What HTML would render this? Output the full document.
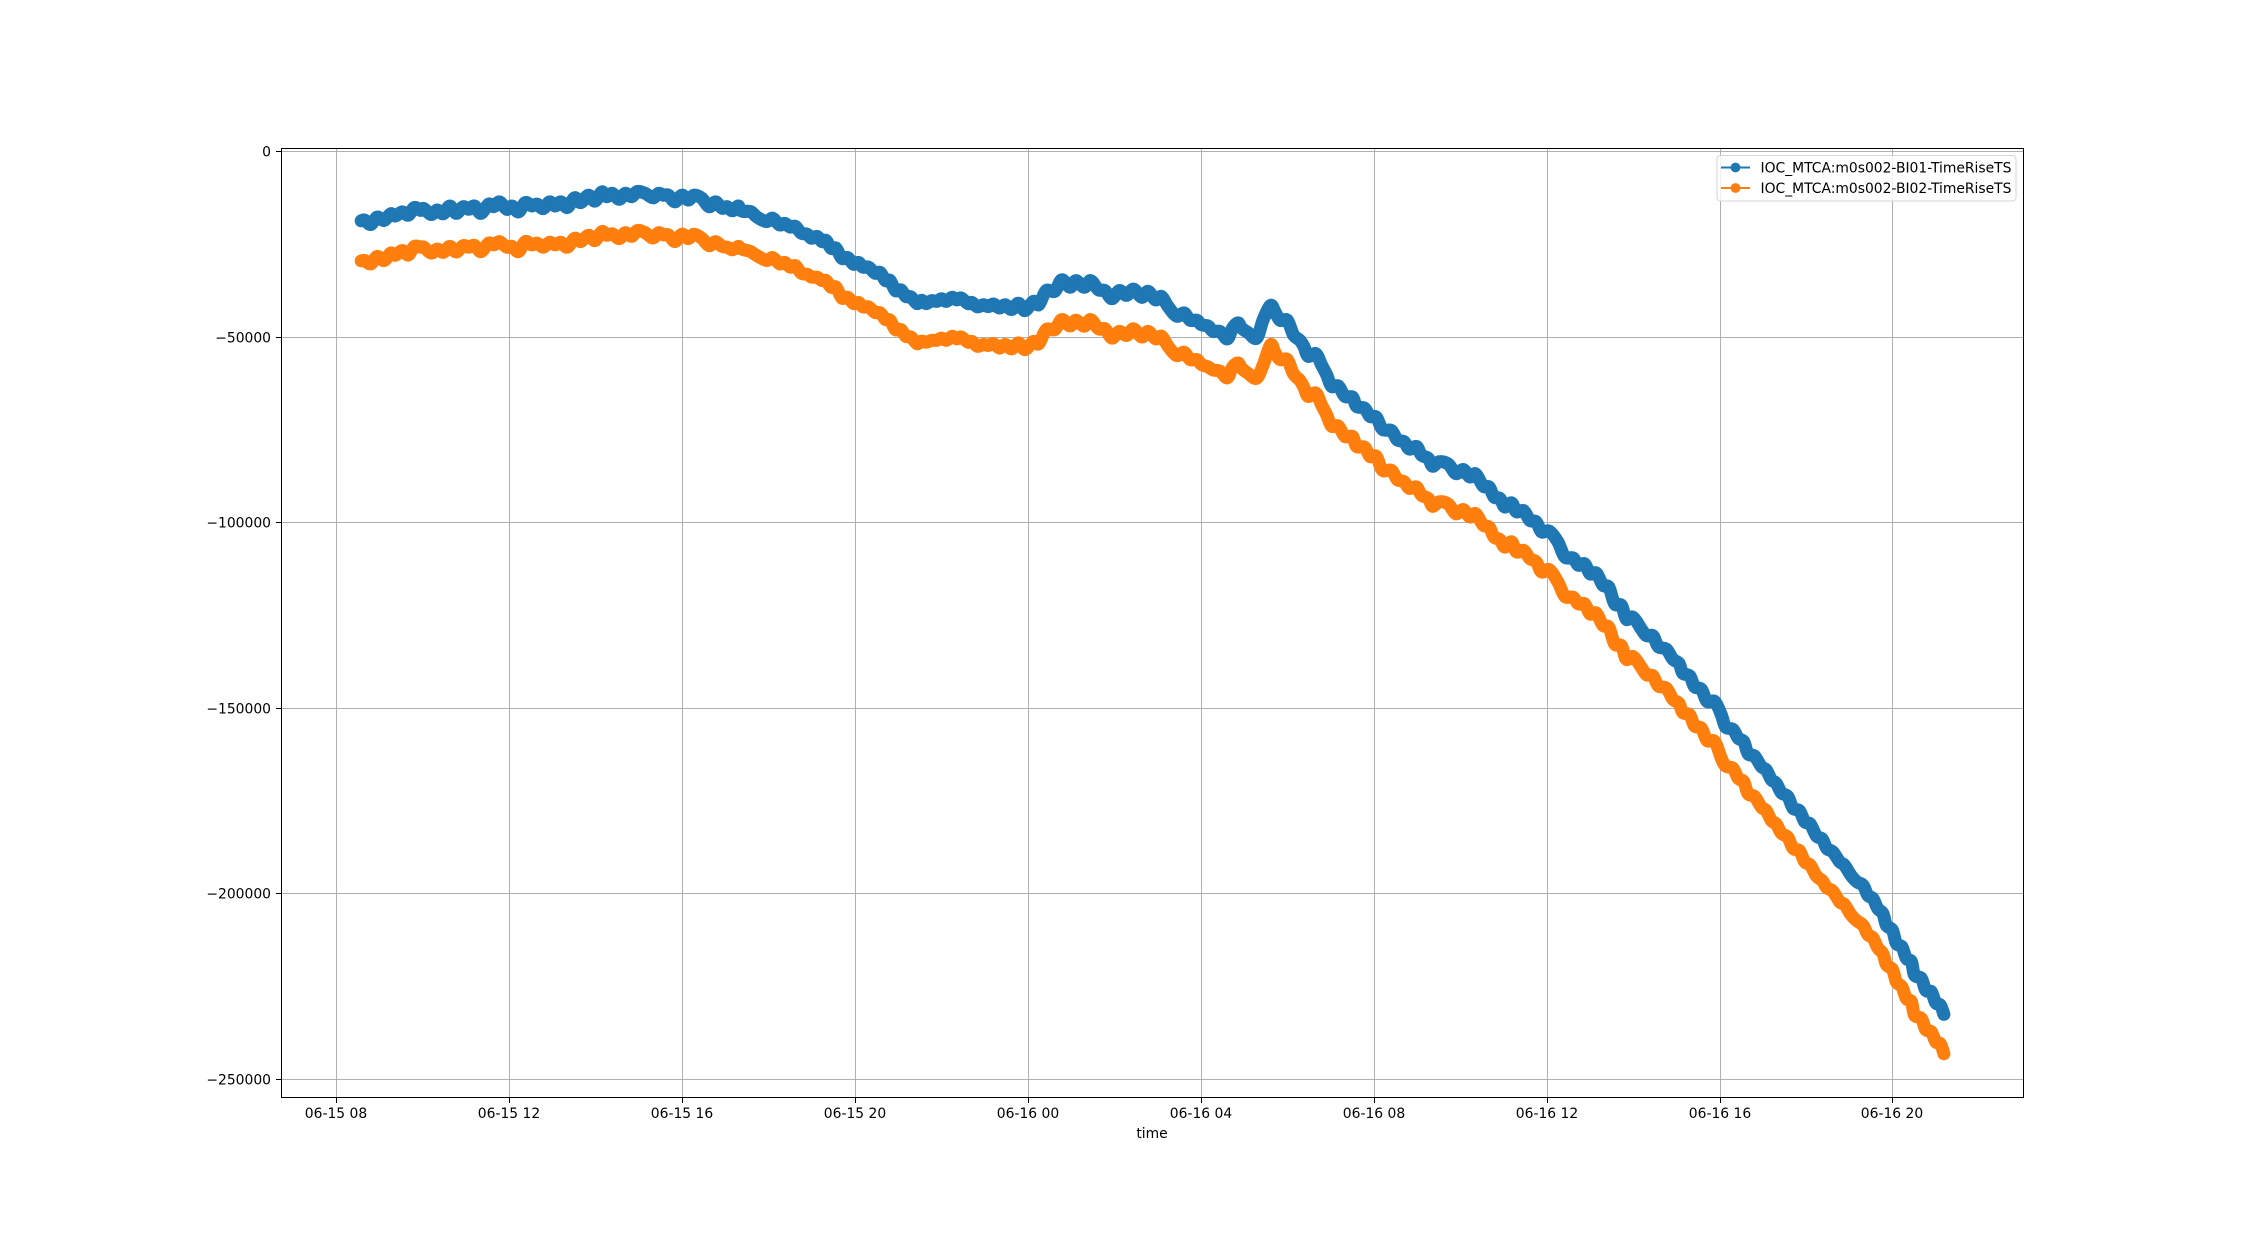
<!DOCTYPE html>
<html lang="en">
<head>
<meta charset="utf-8">
<title>IOC_MTCA TimeRiseTS</title>
<style>
html,body{margin:0;padding:0;background:#fff;width:2248px;height:1233px;overflow:hidden}
svg{display:block}
text{font-family:"DejaVu Sans","Liberation Sans",sans-serif;font-size:13.89px;fill:#000}
</style>
</head>
<body>
<svg id="chart" xmlns="http://www.w3.org/2000/svg" width="2248" height="1233" viewBox="0 0 2248 1233">
  <rect x="0" y="0" width="2248" height="1233" fill="#fff"/>
  <g id="grid"></g>
  <g id="series-bi01"></g>
  <g id="series-bi02"></g>
  <g id="x-ticks"></g>
  <g id="y-ticks"></g>
  <g fill="none" stroke="#000" stroke-width="1" shape-rendering="crispEdges">
    <line x1="281.5" y1="148" x2="281.5" y2="1098"/>
    <line x1="2023.5" y1="148" x2="2023.5" y2="1098"/>
    <line x1="281" y1="148.5" x2="2024" y2="148.5"/>
    <line x1="281" y1="1097.5" x2="2024" y2="1097.5"/>
  </g>
  <text x="1152" y="1138" text-anchor="middle">time</text>
  <g>
    <rect x="1717" y="155.5" width="299" height="45.5" rx="3.5" ry="3.5" fill="#fff" fill-opacity="0.8" stroke="#ccc" stroke-opacity="0.8" stroke-width="1"/>
    <g>
      <line x1="1721" y1="167.5" x2="1750" y2="167.5" stroke="#1f77b4" stroke-width="2.1"/>
      <circle cx="1735.5" cy="167.5" r="4.9" fill="#1f77b4"/>
      <text x="1760.5" y="172.5">IOC_MTCA:m0s002-BI01-TimeRiseTS</text>
    </g>
    <g>
      <line x1="1721" y1="188" x2="1750" y2="188" stroke="#ff7f0e" stroke-width="2.1"/>
      <circle cx="1735.5" cy="188" r="4.9" fill="#ff7f0e"/>
      <text x="1760.5" y="193">IOC_MTCA:m0s002-BI02-TimeRiseTS</text>
    </g>
  </g>
</svg>
<script>
// Hours elapsed since 06-15 08:00
const timeHours = [
0.56,0.64,0.78,0.93,1.09,1.24,1.35,1.51,1.65,1.79,
1.93,2.01,2.18,2.32,2.46,2.61,2.76,2.92,3.05,3.18,
3.33,3.51,3.63,3.76,3.93,4.05,4.20,4.36,4.51,4.63,
4.77,4.92,5.05,5.18,5.33,5.50,5.64,5.82,5.97,6.13,
6.24,6.37,6.53,6.67,6.82,6.95,7.13,7.31,7.44,7.55,
7.67,7.82,7.98,8.13,8.26,8.44,8.61,8.76,8.91,9.03,
9.15,9.28,
9.33,9.41,9.57,9.72,9.94,10.08,10.24,10.36,10.49,10.61,
10.74,10.88,10.98,11.11,11.22,11.32,11.43,11.55,11.68,11.82,
11.95,12.07,12.17,12.30,12.45,12.57,12.69,12.80,12.92,13.05,
13.16,13.28,13.42,13.53,13.63,13.76,13.88,13.99,14.10,14.23,
14.34,14.44,14.60,14.69,14.82,14.96,15.07,15.19,15.33,15.46,
15.61,15.77,15.92,16.11,16.24,16.41,16.61,16.77,16.96,17.10,
17.29,17.44,17.62,17.77,17.93,18.10,18.27,18.43,18.62,18.77,
18.94,19.08,19.23,19.43,19.60,19.74,19.90,20.00,20.16,20.27,
20.43,20.60,20.72,20.85,
20.93,21.09,21.28,21.43,21.60,21.70,21.82,21.99,22.13,22.28,
22.37,22.47,22.65,22.78,22.90,23.01,23.17,23.32,23.50,23.59,
23.78,23.90,24.05,24.19,24.40,24.53,24.69,24.81,24.98,25.09,
25.25,25.35,25.50,25.71,25.89,26.06,26.21,26.35,26.52,26.66,
26.77,26.91,27.02,27.18,27.29,27.46,27.60,27.75,27.87,28.05,
28.25,28.41,28.60,28.72,28.87,28.99,29.14,29.29,29.43,29.56,
29.72,29.83,29.99,30.18,30.30,
30.45,30.57,30.76,30.91,31.05,31.14,31.30,31.41,31.57,31.70,
31.88,32.03,32.13,32.30,32.42,32.55,32.65,32.80,32.96,33.07,
33.19,33.30,33.42,33.57,33.69,33.84,33.96,34.09,34.23,34.37,
34.47,34.61,34.77,34.88,35.04,35.17,35.31,35.42,35.54,35.65,
35.77,35.85,35.99,36.08,36.21,36.31,36.43,36.50,36.66,36.76,
36.89,36.99,37.10,37.18
];
const bi01Values = [
-18700,-18500,-19700,-17700,-18600,-16800,-17400,-16300,-17200,-15100,
-15900,-15400,-17000,-15800,-16800,-14700,-16700,-14900,-15600,-14700,
-16700,-14200,-14900,-13600,-15600,-14700,-16300,-13800,-14700,-14200,
-15400,-13600,-14700,-13600,-15100,-12500,-13800,-11800,-13400,-10900,
-12200,-11300,-12900,-11300,-12200,-10800,-11300,-12500,-11300,-11800,
-11800,-13600,-11800,-13100,-11800,-12600,-14900,-13600,-15300,-14900,
-16000,-14700,
-15800,-16200,-16200,-17700,-18900,-18000,-19800,-19400,-20400,-20200,
-22000,-22300,-23400,-22900,-24300,-24000,-26100,-26100,-28800,-28600,
-30400,-29900,-31200,-31200,-32800,-32600,-34800,-34800,-37500,-37300,
-39100,-39200,-41000,-40100,-41000,-40200,-40400,-39700,-40400,-39300,
-40000,-39500,-41000,-40700,-41900,-41300,-41800,-41100,-42200,-41300,
-42600,-40900,-42900,-40400,-41300,-37500,-37700,-34600,-36600,-34800,
-36600,-34800,-37300,-37500,-39700,-37500,-38800,-37100,-39300,-37700,
-40000,-39100,-41800,-44400,-43500,-45500,-45500,-46700,-47100,-48500,
-48500,-50500,-47600,-46200,
-47600,-48900,-50300,-45300,-41500,-43100,-45500,-45500,-49400,-50900,
-52500,-55200,-54500,-57500,-60200,-63300,-63200,-66000,-66200,-68700,
-69200,-71400,-71600,-74900,-75200,-77700,-78200,-80200,-79500,-81800,
-82700,-84800,-83600,-84200,-86800,-85700,-87700,-86900,-90200,-90400,
-93100,-93500,-95800,-94700,-97100,-96800,-99400,-99800,-102500,-102300,
-105200,-109300,-109500,-111500,-111100,-113800,-113600,-116900,-117400,-121900,
-122300,-126000,-125500,-128700,-130500,
-130500,-133400,-134100,-136800,-137900,-140600,-141300,-144200,-144900,-148200,
-148200,-151800,-155100,-155700,-158100,-159000,-162300,-162900,-165800,-166600,
-169300,-170200,-172800,-173800,-177000,-177600,-180600,-181200,-184400,-185300,
-187800,-188700,-191400,-192300,-195200,-196800,-197700,-200400,-201300,-204000,
-205300,-208500,-209800,-213400,-214300,-217400,-218300,-221900,-222800,-226000,
-226400,-229400,-230000,-232500
];
const bi02Values = [
-29500,-29400,-30300,-28300,-29400,-27400,-28000,-26700,-27900,-25600,
-25800,-25800,-27400,-26300,-27200,-25600,-27100,-25400,-25800,-25300,
-27000,-24700,-25200,-24300,-25800,-25600,-27000,-24300,-25200,-24700,
-25800,-24500,-25200,-24500,-25800,-23400,-24300,-22600,-24000,-21600,
-22600,-22200,-23500,-21900,-22900,-21300,-21900,-23300,-21900,-22500,
-22500,-24300,-22300,-23500,-22300,-23400,-25400,-24300,-25600,-25800,
-26500,-25600,
-26100,-26500,-27000,-28100,-29400,-28600,-30300,-29900,-31200,-30800,
-32800,-33100,-33900,-33900,-34800,-34800,-36600,-36600,-39500,-39300,
-41000,-40700,-41900,-41900,-43400,-43500,-45300,-45500,-48000,-48000,
-49800,-50000,-51800,-51100,-51400,-50900,-50900,-50300,-50900,-49800,
-50500,-50000,-51400,-51200,-52500,-52000,-52300,-51800,-53000,-52000,
-53200,-51600,-53400,-51200,-51800,-48000,-48000,-45300,-47000,-45500,
-47100,-45300,-47800,-47800,-50300,-48500,-49600,-47800,-50000,-48500,
-50500,-49800,-52500,-55000,-54100,-56100,-56100,-57400,-58100,-58900,
-59200,-61000,-58100,-57000,
-58400,-59900,-61100,-57500,-52100,-54100,-56100,-56100,-59900,-61700,
-63500,-66000,-65100,-68300,-71000,-74000,-74000,-76800,-76800,-79500,
-79700,-82200,-82200,-85900,-85900,-88400,-89000,-90800,-90400,-92600,
-93500,-95600,-94400,-95000,-97600,-96500,-98500,-97600,-100700,-101200,
-103900,-104600,-106600,-105200,-107900,-107500,-109700,-110600,-113300,-112700,
-116000,-119900,-120100,-121900,-121900,-124600,-124400,-127700,-128200,-132700,
-133200,-136800,-136100,-139000,-141000,
-141300,-144000,-144600,-147600,-148700,-151200,-151800,-154800,-155400,-158700,
-159000,-163500,-165600,-166200,-168900,-169800,-173100,-173800,-176700,-177600,
-180300,-181200,-183700,-184800,-187800,-188400,-191400,-192300,-195200,-196500,
-198400,-199300,-202200,-202900,-205800,-207300,-208500,-211000,-211900,-214600,
-216100,-219100,-220400,-223700,-225100,-228200,-229100,-232700,-233600,-236600,
-237200,-239900,-240400,-243100
];
const xTickHours = [0,4,8,12,16,20,24,28,32,36];
const xTickLabels = ["06-15 08","06-15 12","06-15 16","06-15 20","06-16 00","06-16 04","06-16 08","06-16 12","06-16 16","06-16 20"];
const yTickValues = [0,-50000,-100000,-150000,-200000,-250000];
const yTickLabels = ["0","\u221250000","\u2212100000","\u2212150000","\u2212200000","\u2212250000"];

const NS = "http://www.w3.org/2000/svg";
function xScale(h){ return 336.97 + h * 43.22; }
function yScale(v){ return 151.4 - v * 928 / 250000; }
function snap(p){ return Math.floor(p) + 0.5; }
function make(tag, attrs, parent){
  const el = document.createElementNS(NS, tag);
  for (const k in attrs) el.setAttribute(k, attrs[k]);
  parent.appendChild(el);
  return el;
}
const grid = document.getElementById("grid");
const xTicks = document.getElementById("x-ticks");
const yTicks = document.getElementById("y-ticks");

xTickHours.forEach(function(h, i){
  const px = snap(xScale(h));
  const g = make("line", {x1:px, x2:px, y1:148.5, y2:1097.5, stroke:"#b0b0b0", "stroke-width":1.1, "shape-rendering":"crispEdges"}, grid);
  
  
  const t = make("line", {x1:px, x2:px, y1:1097.5, y2:1103, stroke:"#000", "stroke-width":1, "shape-rendering":"crispEdges"}, xTicks);
  
  
  const l = make("text", {x:px - 0.5, y:1118, "text-anchor":"middle"}, xTicks);
  l.textContent = xTickLabels[i];
  
  
});
yTickValues.forEach(function(v, i){
  const py = snap(yScale(v));
  const g = make("line", {x1:281.5, x2:2023.5, y1:py, y2:py, stroke:"#b0b0b0", "stroke-width":1.1, "shape-rendering":"crispEdges"}, grid);
  
  
  const t = make("line", {x1:276, x2:281.5, y1:py, y2:py, stroke:"#000", "stroke-width":1, "shape-rendering":"crispEdges"}, yTicks);
  
  
  const l = make("text", {x:271, y:py + 5, "text-anchor":"end"}, yTicks);
  l.textContent = yTickLabels[i];
  
  
});

// Rounded curve through the data points, so the ripple reads as smooth as in the dense original
function curvePath(pts){
  let d = "M" + pts[0][0].toFixed(1) + " " + pts[0][1].toFixed(1);
  for (let i = 0; i < pts.length - 1; i++){
    const p0 = pts[Math.max(i - 1, 0)], p1 = pts[i], p2 = pts[i + 1], p3 = pts[Math.min(i + 2, pts.length - 1)];
    const c1x = p1[0] + (p2[0] - p0[0]) / 6, c1y = p1[1] + (p2[1] - p0[1]) / 6;
    const c2x = p2[0] - (p3[0] - p1[0]) / 6, c2y = p2[1] - (p3[1] - p1[1]) / 6;
    d += "C" + c1x.toFixed(1) + " " + c1y.toFixed(1) + " " + c2x.toFixed(1) + " " + c2y.toFixed(1) + " " + p2[0].toFixed(1) + " " + p2[1].toFixed(1);
  }
  return d;
}
function drawSeries(groupId, values, color){
  const group = document.getElementById(groupId);
  const pts = values.map(function(v, i){ return [xScale(timeHours[i]), yScale(v)]; });
  const line = make("path", {d:curvePath(pts), fill:"none", stroke:color, "stroke-width":13, "stroke-linejoin":"round", "stroke-linecap":"round"}, group);
  
  
  pts.forEach(function(p){
    const c = make("circle", {cx:p[0].toFixed(1), cy:p[1].toFixed(1), r:5.7, fill:color}, group);
    
    
  });
}
drawSeries("series-bi01", bi01Values, "#1f77b4");
drawSeries("series-bi02", bi02Values, "#ff7f0e");
</script>
</body>
</html>
